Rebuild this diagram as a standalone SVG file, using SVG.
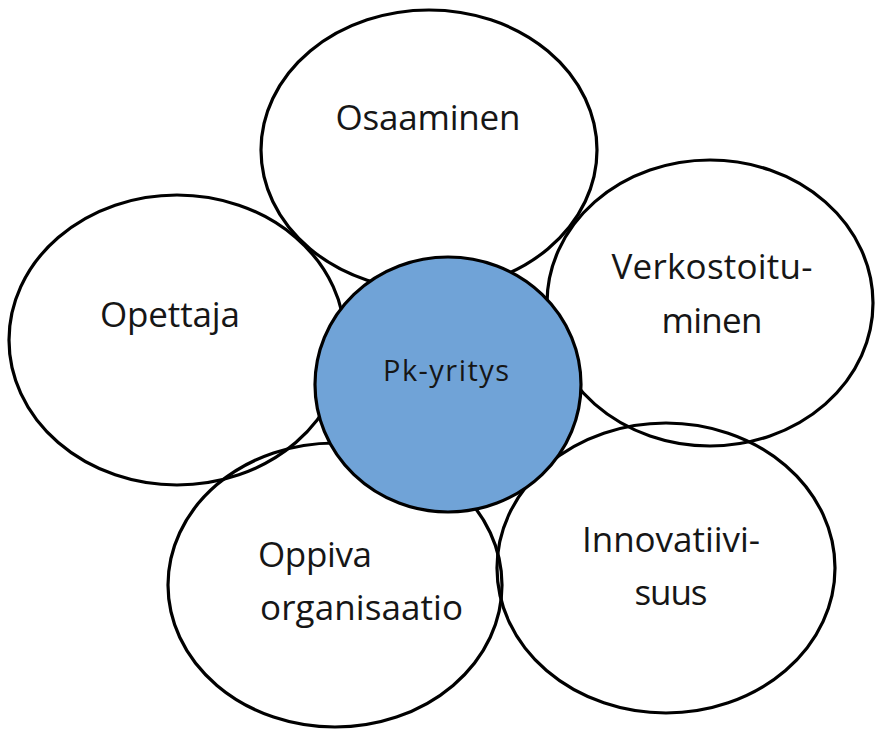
<svg xmlns="http://www.w3.org/2000/svg" width="875" height="733" viewBox="0 0 875 733">
  <style>
    .petal { fill: none; stroke: #000; stroke-width: 3.2; }
    .core { fill: #70a3d7; stroke: #000; stroke-width: 3.2; }
    .label { font-family: "Open Sans", "Liberation Sans", sans-serif; font-size: 35px; fill: #161616; }
    .mid { text-anchor: middle; }
    .small { font-size: 29px; }
  </style>
  <rect width="875" height="733" fill="#fff"/>
  <!-- outer petals -->
  <g id="osaaminen">
    <ellipse class="petal" cx="429" cy="150" rx="168" ry="140"/>
    <text class="label mid" x="428" y="130" textLength="185">Osaaminen</text>
  </g>
  <g id="opettaja">
    <ellipse class="petal" cx="177" cy="340" rx="168" ry="145"/>
    <text class="label mid" x="170" y="327" textLength="140">Opettaja</text>
  </g>
  <g id="verkostoituminen">
    <ellipse class="petal" cx="710" cy="303" rx="163" ry="143"/>
    <text class="label mid" x="712" y="279" textLength="201">Verkostoitu-</text>
    <text class="label mid" x="712" y="333" textLength="101">minen</text>
  </g>
  <g id="oppiva-organisaatio">
    <ellipse class="petal" cx="335" cy="585" rx="167" ry="142"/>
    <text class="label" x="258" y="567" textLength="114">Oppiva</text>
    <text class="label" x="260" y="620" textLength="203">organisaatio</text>
  </g>
  <g id="innovatiivisuus">
    <ellipse class="petal" cx="666" cy="568" rx="169" ry="145"/>
    <text class="label mid" x="671" y="552" textLength="178">Innovatiivi-</text>
    <text class="label mid" x="671" y="605" textLength="73">suus</text>
  </g>
  <!-- centre -->
  <g id="pk-yritys">
    <ellipse class="core" cx="448" cy="384.5" rx="133" ry="127.5"/>
    <text class="label mid small" x="446" y="381" textLength="126">Pk-yritys</text>
  </g>
</svg>
